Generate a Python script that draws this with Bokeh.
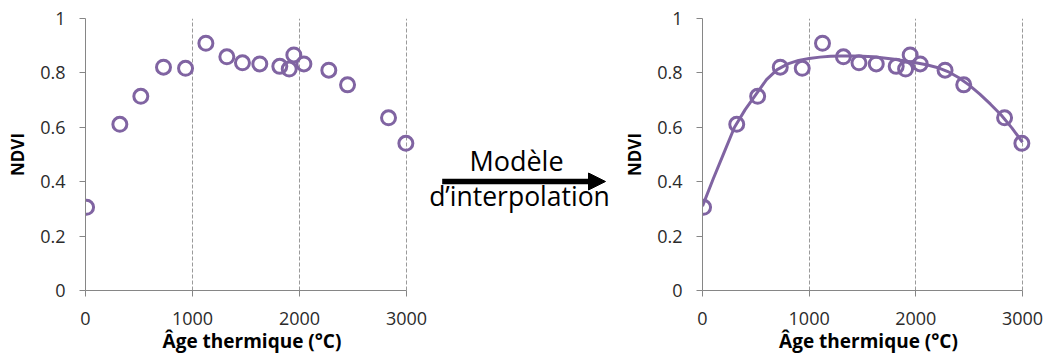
from bokeh.plotting import figure
from bokeh.layouts import row
from bokeh.models import Range1d, FixedTicker, Label, Arrow, NormalHead
from bokeh.embed import file_html
from bokeh.resources import INLINE

# ---- data ----
age = [10, 321, 517, 729, 935, 1125, 1321, 1467, 1629, 1816, 1904, 1947, 2041, 2274, 2449, 2832, 2994]
ndvi = [0.306, 0.611, 0.714, 0.821, 0.817, 0.909, 0.859, 0.837, 0.833, 0.824, 0.814, 0.866, 0.833, 0.810, 0.756, 0.635, 0.541]

curve_age = [0, 100, 200, 300, 400, 500, 600, 700, 800, 900, 1000, 1100, 1200, 1300, 1400, 1500,
             1600, 1700, 1800, 1900, 2000, 2100, 2200, 2300, 2400, 2500, 2600, 2700, 2800, 2900, 3000]
curve_ndvi = [0.310, 0.410, 0.505, 0.600, 0.665, 0.720, 0.775, 0.812, 0.833, 0.846, 0.853, 0.858,
              0.861, 0.862, 0.862, 0.861, 0.859, 0.855, 0.850, 0.844, 0.837, 0.830, 0.820, 0.805,
              0.783, 0.755, 0.722, 0.685, 0.645, 0.598, 0.545]

x_ticks = [0, 1000, 2000, 3000]
y_ticks = [0, 0.2, 0.4, 0.6, 0.8, 1]
y_tick_labels = ["0", "0.2", "0.4", "0.6", "0.8", "1"]

x_title = "Âge thermique (°C)"
y_title = "NDVI"
mid_line1 = "Modèle"
mid_line2 = "d’interpolation"

PURPLE = "#8064A2"
AXIS = "#868686"
GRID = "#9a9a9a"
TXT = "#2b2b2b"
FONT = "Open Sans"

H = 362
TOP = 18
BOTTOM = 290


def make_panel(width, frame_left, frame_w_px, pad_px, show_curve):
    span = x_ticks[-1] - x_ticks[0]
    pad = pad_px * span / frame_w_px
    p = figure(width=width, height=H, output_backend="svg", toolbar_location=None,
               x_range=Range1d(x_ticks[0], x_ticks[-1] + pad),
               y_range=Range1d(y_ticks[0], y_ticks[-1]),
               min_border_left=frame_left,
               min_border_right=width - (frame_left + frame_w_px + pad_px),
               min_border_top=TOP, min_border_bottom=H - BOTTOM)
    p.outline_line_color = None
    p.background_fill_color = "white"
    p.border_fill_color = "white"

    xa = p.xaxis[0]
    xa.ticker = FixedTicker(ticks=x_ticks)
    xa.bounds = (x_ticks[0], x_ticks[-1])
    ya = p.yaxis[0]
    ya.ticker = FixedTicker(ticks=y_ticks)
    ya.major_label_overrides = {t: l for t, l in zip(y_ticks, y_tick_labels)}
    for ax in (xa, ya):
        ax.axis_line_color = AXIS
        ax.axis_line_width = 1
        ax.major_tick_line_color = AXIS
        ax.major_tick_out = 6
        ax.major_tick_in = 0
        ax.minor_tick_line_color = None
        ax.major_label_text_font = FONT
        ax.major_label_text_font_size = "18px"
        ax.major_label_text_color = TXT
        ax.axis_label_text_font = FONT
        ax.axis_label_text_font_style = "bold"
        ax.axis_label_text_color = "#000000"
    xa.axis_label = x_title
    xa.axis_label_text_font_size = "19px"
    xa.major_label_standoff = 15
    xa.axis_label_standoff = 0
    ya.axis_label = y_title
    ya.axis_label_text_font_size = "17px"
    ya.major_label_standoff = 14
    ya.axis_label_standoff = 8

    p.ygrid.grid_line_color = None
    p.xgrid.grid_line_color = GRID
    p.xgrid.grid_line_dash = "4 2"
    p.xgrid.grid_line_width = 1

    if show_curve:
        p.line(curve_age, curve_ndvi, line_color=PURPLE, line_width=3)
    p.scatter(age, ndvi, marker="circle", size=14, fill_color=None,
              line_color=PURPLE, line_width=3)
    return p


left = make_panel(width=427, frame_left=85, frame_w_px=321, pad_px=12, show_curve=False)

mid_w = 193
mid_x0 = 427  # page x of the middle panel
mid = figure(width=mid_w, height=H, output_backend="svg", toolbar_location=None,
             x_range=Range1d(mid_x0, mid_x0 + mid_w), y_range=Range1d(BOTTOM, TOP),
             x_axis_type=None, y_axis_type=None,
             min_border_left=0, min_border_right=0, min_border_top=TOP,
             min_border_bottom=H - BOTTOM)
mid.outline_line_color = None
mid.grid.grid_line_color = None
mid.background_fill_color = "white"
mid.border_fill_color = "white"
mid.add_layout(Label(x=516, y=159.7, text=mid_line1, text_align="center",
                     text_baseline="alphabetic", text_font=FONT,
                     text_font_size="27px", text_color="black"))
mid.add_layout(Label(x=519, y=195.5, text=mid_line2, text_align="center",
                     text_baseline="alphabetic", text_font=FONT,
                     text_font_size="26.5px", text_color="black"))
mid.add_layout(Arrow(end=NormalHead(size=17, fill_color="black", line_color="black", line_width=1),
                     x_start=441.7, y_start=181, x_end=605, y_end=181,
                     line_width=5.5, line_color="black"))

right = make_panel(width=427, frame_left=82, frame_w_px=320, pad_px=12, show_curve=True)

layout = row(left, mid, right)
open("out.html", "w").write(file_html(layout, INLINE))
